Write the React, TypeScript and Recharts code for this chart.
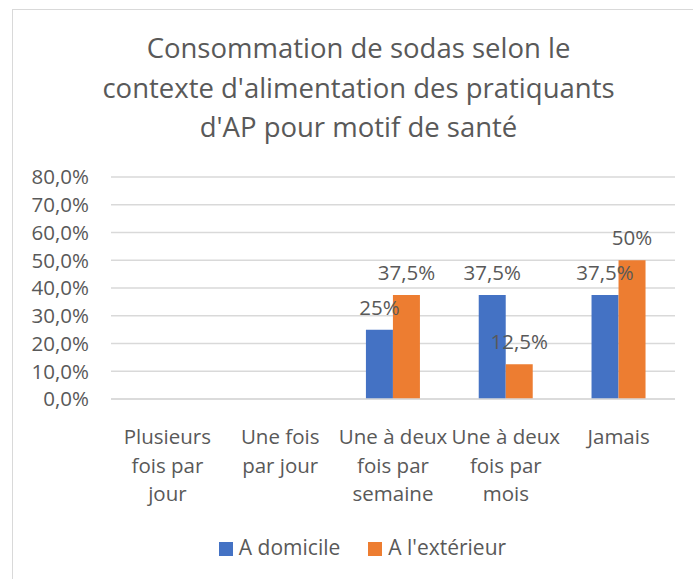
import React from 'react';
import { BarChart, Bar, XAxis, YAxis, CartesianGrid, Legend, LabelList } from 'recharts';

const categories = [
  'Plusieurs fois par jour',
  'Une fois par jour',
  'Une à deux fois par semaine',
  'Une à deux fois par mois',
  'Jamais',
];
const domicile = [0, 0, 25, 37.5, 37.5];
const exterieur = [0, 0, 37.5, 12.5, 50];
const yTicks = [0, 10, 20, 30, 40, 50, 60, 70, 80];
const titleLines = [
  'Consommation de sodas selon le',
  "contexte d'alimentation des pratiquants",
  "d'AP pour motif de santé",
];

const FONT = '"Open Sans", sans-serif';
const TEXT = '#595959';
const BLUE = '#4472C4';
const ORANGE = '#ED7D31';

const data = categories.map((name, i) => ({ name, domicile: domicile[i], exterieur: exterieur[i] }));

// coupe le libellé en lignes de ~10 caractères max
function wrap(label: string, max = 10) {
  const words = label.split(' ');
  const lines: string[] = [];
  let cur = '';
  words.forEach(w => {
    if (!cur) cur = w;
    else if ((cur + ' ' + w).length <= max) cur += ' ' + w;
    else { lines.push(cur); cur = w; }
  });
  if (cur) lines.push(cur);
  return lines;
}

const CategoryTick = (props: any) => {
  const { x, y, payload } = props;
  const lines = wrap(payload.value);
  return (
    <text x={x} y={y} textAnchor="middle" fill={TEXT} fontSize={20.5} fontFamily={FONT}>
      {lines.map((l, i) => (
        <tspan key={i} x={x} dy={i === 0 ? 37 : 28.5}>{l}</tspan>
      ))}
    </text>
  );
};

const pct = (v: any) => (v ? `${String(v).replace('.', ',')}%` : '');
const axisPct = (v: number) => `${v.toFixed(1).replace('.', ',')}%`;

export default function App() {
  return (
    <div style={{ position: 'absolute', left: 0, top: 0, width: 693, height: 579, overflow: 'hidden', background: '#fff' }}>
      <div style={{ position: 'absolute', left: 12, top: 9, width: 720, height: 620, border: '1.5px solid #d9d9d9' }} />
      <div style={{ position: 'absolute', left: 12, top: 28, width: 693, textAlign: 'center', fontFamily: FONT, fontSize: 27.5, lineHeight: '39.5px', color: TEXT }}>
        {titleLines.map((t, i) => <div key={i}>{t}</div>)}
      </div>
      <div style={{ position: 'absolute', left: 0, top: 0 }}>
        <BarChart width={693} height={579} data={data} margin={{ top: 177, right: 18, bottom: 18, left: 0 }} barCategoryGap="26%" barGap={0}>
          <CartesianGrid vertical={false} stroke="#d9d9d9" strokeWidth={1.3} />
          <XAxis dataKey="name" axisLine={{ stroke: '#d9d9d9', strokeWidth: 1.3 }} tickLine={false} tick={<CategoryTick />} height={134} interval={0} />
          <YAxis domain={[0, 80]} ticks={yTicks} interval={0} tickFormatter={axisPct} axisLine={false} tickLine={false} tickSize={0} tickMargin={22} width={111}
            tick={{ fill: TEXT, fontSize: 20.5, fontFamily: FONT }} />
          <Legend verticalAlign="bottom" iconType="square" iconSize={14}
            wrapperStyle={{ fontFamily: FONT, fontSize: 21, paddingLeft: 39 }}
            formatter={(v: string) => <span style={{ color: TEXT, marginLeft: 2, marginRight: 18 }}>{v}</span>} />
          <Bar dataKey="domicile" name="A domicile" fill={BLUE} isAnimationActive={false}>
            <LabelList dataKey="domicile" position="top" offset={15} formatter={pct} fill={TEXT} fontSize={20.5} fontFamily={FONT} />
          </Bar>
          <Bar dataKey="exterieur" name="A l'extérieur" fill={ORANGE} isAnimationActive={false}>
            <LabelList dataKey="exterieur" position="top" offset={15} formatter={pct} fill={TEXT} fontSize={20.5} fontFamily={FONT} />
          </Bar>
        </BarChart>
      </div>
    </div>
  );
}
